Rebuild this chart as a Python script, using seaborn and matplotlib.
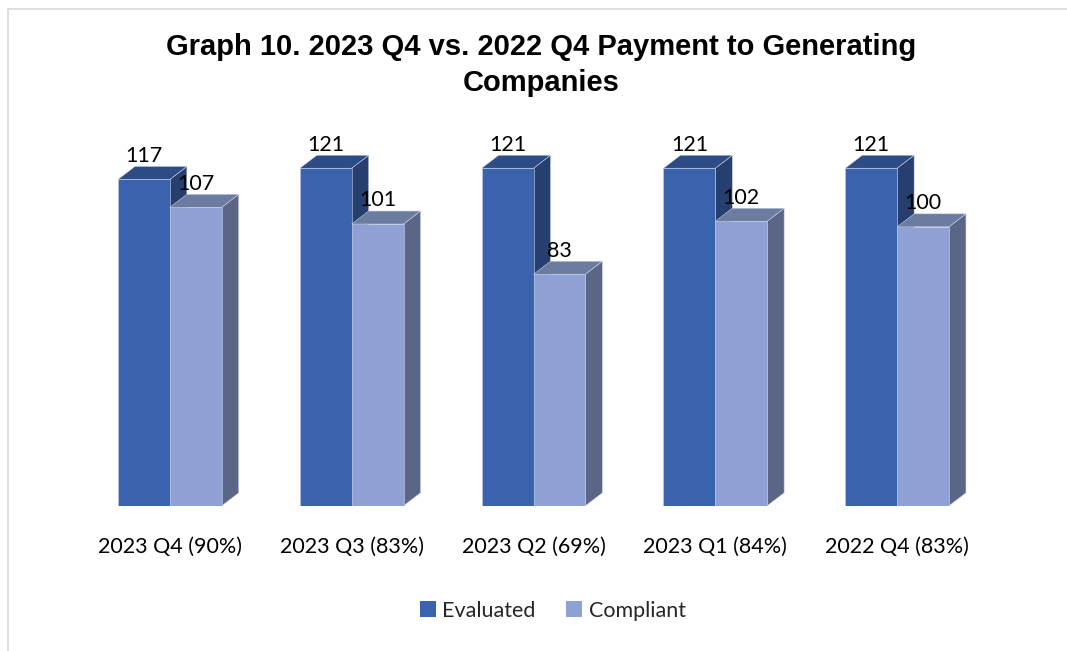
import numpy as np
import pandas as pd
import matplotlib
matplotlib.use("Agg")
import matplotlib.pyplot as plt
import seaborn as sns
from matplotlib.patches import Polygon, Patch
from matplotlib.lines import Line2D

quarters = ["2023 Q4 (90%)", "2023 Q3 (83%)", "2023 Q2 (69%)", "2023 Q1 (84%)", "2022 Q4 (83%)"]
evaluated = [117, 121, 121, 121, 121]
compliant = [107, 101, 83, 102, 100]
series = ["Evaluated", "Compliant"]

front_colors = ["#3B63AD", "#8FA1D4"]
top_colors = ["#2D4C86", "#6C7BA0"]
side_colors = ["#263F6E", "#5B6687"]

df = pd.DataFrame({
    "quarter": quarters * 2,
    "count": evaluated + compliant,
    "series": [series[0]] * len(quarters) + [series[1]] * len(quarters),
})

sns.set_style("white")
plt.rcParams["font.family"] = ["Lato", "DejaVu Sans"]

fig = plt.figure(figsize=(10.67, 6.51), dpi=100)
ax = fig.add_axes([0.074, 0.223, 0.852, 0.60])

sns.barplot(data=df, x="quarter", y="count", hue="series", palette=front_colors,
            saturation=1, width=0.57, ax=ax, legend=False, zorder=2,
            edgecolor="#c5cfe6", linewidth=0.4)

ax.set_xlim(-0.5, len(quarters) - 0.5)
ax.set_ylim(0, 140)

# 3D depth in pixels -> data units
p0 = ax.transData.transform((0, 0))
p1 = ax.transData.transform((1, 1))
dx = 17 / (p1[0] - p0[0])
dy = 13 / (p1[1] - p0[1])

for i, cont in enumerate(ax.containers):
    for bar in cont:
        x0 = bar.get_x()
        w = bar.get_width()
        h = bar.get_height()
        top = Polygon([(x0, h), (x0 + dx, h + dy), (x0 + w + dx, h + dy), (x0 + w, h)],
                      closed=True, facecolor=top_colors[i], edgecolor="#c5cfe6",
                      linewidth=0.4, zorder=2 + i * 0.1)
        side = Polygon([(x0 + w, 0), (x0 + w + dx, dy), (x0 + w + dx, h + dy), (x0 + w, h)],
                       closed=True, facecolor=side_colors[i], edgecolor="#c5cfe6",
                       linewidth=0.4, zorder=2 + i * 0.1)
        ax.add_patch(side)
        ax.add_patch(top)
        bar.set_zorder(2 + i * 0.1 + 0.01)
        ax.annotate(f"{int(h)}", xy=(x0 + w / 2, h), xytext=(0, 17),
                    textcoords="offset points", ha="center", va="center",
                    fontsize=15.5, color="black", zorder=5)

ax.set_xlabel("")
ax.set_ylabel("")
ax.set_yticks([])
ax.tick_params(axis="x", length=0, pad=22, labelsize=15.5, labelcolor="black")
for s in ax.spines.values():
    s.set_visible(False)

fig.text(0.507, 0.900, "Graph 10. 2023 Q4 vs. 2022 Q4 Payment to Generating\nCompanies",
         ha="center", va="center", fontsize=21, fontweight="bold", color="black",
         family=["Liberation Sans", "DejaVu Sans"], linespacing=1.35)

handles = [Patch(facecolor=c, edgecolor="none") for c in front_colors]
fig.legend(handles, series, loc="center", bbox_to_anchor=(0.518, 0.062), ncol=2,
           frameon=False, fontsize=15.5, handlelength=0.75, handleheight=0.75,
           handletextpad=0.3, columnspacing=1.4)

fig.add_artist(Line2D([8 / 1067, 8 / 1067], [0, 1 - 9 / 651], transform=fig.transFigure,
                      color="#d9d9d9", linewidth=1.2))
fig.add_artist(Line2D([8 / 1067, 1], [1 - 9 / 651, 1 - 9 / 651], transform=fig.transFigure,
                      color="#d9d9d9", linewidth=1.2))

fig.savefig("out.png", dpi=100)
